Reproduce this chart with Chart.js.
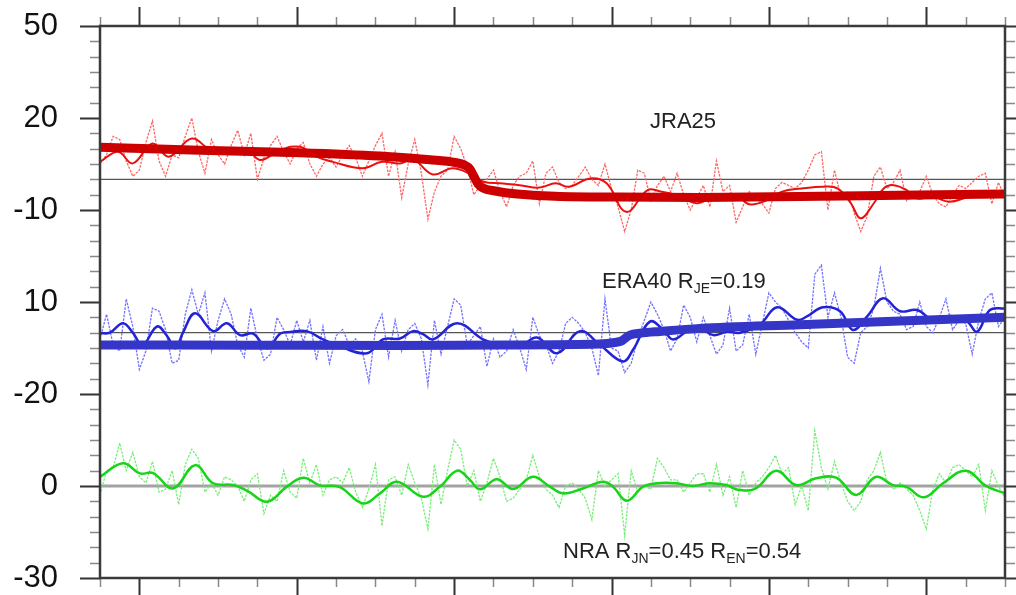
<!DOCTYPE html>
<html>
<head>
<meta charset="utf-8">
<title>JRA25 / ERA40 / NRA</title>
<script src="https://cdn.jsdelivr.net/npm/chart.js@4.4.1/dist/chart.umd.min.js"></script>
<style>
  html, body { margin: 0; padding: 0; background: #fff; }
  canvas { display: block; }
</style>
</head>
<body>
<canvas id="chart" width="1016" height="595"></canvas>
<script>
// monthly anomalies sampled every 2 months, Jan 1979 .. Dec 2001 (month 0 .. 276)
const RAW_STEP = 2;
const jraRaw = [5,8,14,13,6,1,3,12,19,6, 1,8,7,14,20,9,2,13,8,5, 11,16,8,15,0,7,11,14,9,5,
  10,12,5,1,5,7,4,8,11,7, 1,6,11,15,1,9,-6,5,13,2, -13,-4,1,3,14,10,4,-5,-2,0,
  3,-4,-9,-2,1,2,6,-8,2,4, -1,-3,-2,1,4,0,-2,5,-3,-9, -17,-10,3,2,-7,-2,1,-4,2,-5,
  -10,-6,-2,-9,6,-4,-2,-14,-9,-4, -6,-8,-11,-3,-1,-2,-3,-1,3,8, 9,-10,3,-6,-4,-11,-17,-12,1,4,
  -3,-1,3,-7,-5,-4,1,-5,-8,-9, -5,-2,-3,-1,1,2,-8,-1,-6];
const eraRaw = [-2,6,-4,-6,11,2,-12,-6,8,7, 1,-10,-9,6,14,6,13,-6,4,11, 6,-4,-8,8,-2,-9,-7,5,1,-4,
  4,-3,4,-9,2,-10,-1,1,-4,-2, -6,-16,1,6,-8,4,-6,1,3,-2, -17,4,-7,2,11,9,-4,-1,2,-11,
  -2,-8,-6,1,-5,-12,5,-1,-4,-10, -6,3,5,3,0,-5,-14,11,-5,-6, -13,-10,-2,4,10,6,1,-6,-2,9,
  5,-3,5,-1,-7,-4,8,-6,-4,6, -7,3,13,10,8,4,0,-3,-5,19, 22,5,13,5,-8,-10,0,2,8,21,
  10,7,6,1,2,10,2,0,5,11, 1,4,3,-7,4,11,13,2,5];
const nraRaw = [-3,5,6,14,5,11,3,1,8,-2, -1,5,-6,7,12,9,-2,1,-3,3, 2,0,-5,2,4,-9,-3,-5,5,-2,
  -4,9,1,7,-3,2,3,1,6,-2, -7,-1,7,-13,2,3,-3,7,1,-4, -14,7,-6,5,15,12,0,5,-5,1,
  9,3,-5,-4,-1,2,10,3,-1,-3, -7,0,1,-1,-4,-11,5,0,2,4, -16,5,-2,0,-1,9,6,2,2,-2,
  1,4,4,-2,7,-3,3,-7,5,-3, 1,3,6,10,4,6,-6,0,-8,18, 6,-1,8,1,-5,-8,-5,2,5,11,
  1,-1,1,-1,-3,-8,-14,-1,4,1, 6,7,5,3,7,-8,5,0,-4];

// low-pass filtered curves (month, value)
const jraSmoothM = [0,5.5,10,16,21,28,34,45,49,55,61,66,71,80,86,91.5,95.5,101.5,107.5,113,
  117,122,128,134,139,143,149.5,154.5,160.5,167,171,176,182,188,194,198,203,208,214,220.5,
  225,229,232,236,239,242,246,249,254,259,265,271,276];
const jraSmooth = [5.7,9.0,5.2,11.7,7.4,13.3,9.6,9.2,6.3,9.6,10.6,7.4,5.7,3.6,5.7,5.2,6.5,1.6,3.6,1.7,
  -0.8,-1.3,-1.9,-2.7,-1.3,-2.4,0.3,-1.3,-10.6,-3.5,-4.0,-5.2,-7.8,-5.2,-5.2,-8.1,-7.0,-4.0,-3.0,-2.4,
  -3.0,-7.8,-12.7,-7.8,-3.0,-1.9,-3.5,-6.2,-5.7,-7.3,-5.7,-4.6,-4.6];
const eraSmoothM = [0,3,7,10,13,17.4,20.4,23,25.3,29,34.5,38.7,42.7,46.7,51,55,58,63,68,73,
  81.4,86.3,91.5,95.5,98.5,101.6,108.9,116.8,122,128,133.3,139.4,146.4,152.5,159.5,162.6,167.7,171.7,174.8,180,
  183,187,191.2,195.2,201.3,206.5,212.6,215.6,220.5,225.7,229.6,233.9,238.8,244,249.2,254,259.2,264.4,267.5,271.4,276];
const eraSmooth = [-0.2,0,3.1,0,-4.0,2.0,-1.0,-5.1,0,6.3,0.5,3.1,-0.8,-0.3,-5.1,-0.3,0.2,0.5,-2.2,-4.4,
  -6.7,-2.2,-1.9,0.5,-0.5,-2.2,3.1,-2.2,-4.0,-4.4,-1.6,-6.7,0.5,-4.0,-9.4,-5.5,3.6,1.0,-2.2,1.2,
  1.5,-0.8,0.3,0,2.7,8.3,4.2,5.3,8.3,7.0,0.9,5.2,11.2,7.0,7.4,4.2,5.4,3.7,0.3,7.4,7.9];
const nraSmoothM = [0,7,12.2,16.2,22.3,29,34.5,40.6,44.8,51,57,62,67,73,80.2,85.4,90.6,98.5,103.7,108.9,
  112.8,115.9,121,126,132,137.2,141.2,147.3,153.4,156.4,160.7,165.6,169.9,175.7,180.8,185.7,190.9,194.9,200,206.2,
  212.3,218.4,224.5,230.6,236.7,241.8,245.8,251.3,257.1,264.1,270.2,276];
const nraSmooth = [3.0,7.4,4.1,4.2,-0.8,6.8,0.9,0.3,-1.5,-5.1,-0.2,2.7,0.2,-0.3,-5.7,-2.4,1.4,-3.5,-0.2,5.0,
  2.0,-1.1,2.2,-1.0,3.0,-0.2,-2.4,-0.8,1.4,-0.2,-4.8,-0.2,0.9,0.9,0,0.9,0.3,-1.3,-0.8,5.0,
  0.3,2.5,2.7,-2.9,3.0,0.3,-0.2,-3.7,0.9,5.0,0,-2.4];

// fitted trend with break
const jraTrendM = [0,30.5,61,85.4,100.6,108.3,111.3,112.8,114,115.3,116.8,120.5,127.2,138.8,158.6,183,213.5,244,276];
const jraTrend = [10.5,9.5,8.7,7.6,6.4,5.5,4.6,3.4,1.0,-1.5,-2.8,-3.8,-4.8,-5.5,-5.8,-5.9,-5.6,-5.2,-4.8];
const eraTrendM = [0,45.7,91.5,122,152.5,157,159.2,160.4,161.6,164.7,170.8,183,213.5,244,276];
const eraTrend = [-4.0,-4.1,-4.2,-4.0,-3.7,-3.2,-2.6,-1.6,-0.8,-0.2,0.4,1.4,2.6,3.8,5.0];

// y tick labels, bottom to top (each panel has its own zero)
const yTickLabels = ['-30', '0', '-20', '10', '-10', '20', '50'];
const MONTHS = 276;

// vertical shift of each panel on the shared axis
const NRA_SHIFT = 0, ERA_SHIFT = 50, JRA_SHIFT = 100;

const rawPts = (vals, shift) => vals.map((v, i) => ({ x: i * RAW_STEP, y: v + shift }));
const xyPts = (ms, vals, shift) => ms.map((m, i) => ({ x: m, y: vals[i] + shift }));
const flat = shift => [{ x: 0, y: shift }, { x: MONTHS, y: shift }];

const rawStyle = c => ({ borderColor: c, borderWidth: 1.3, borderDash: [2.5, 1.2], tension: 0, order: 3 });
const smoothStyle = (c, w) => ({ borderColor: c, borderWidth: w, tension: 0.4, order: 2 });
const trendStyle = c => ({ borderColor: c, borderWidth: 9, cubicInterpolationMode: 'monotone', borderCapStyle: 'butt', order: 1 });

const datasets = [
  { data: flat(NRA_SHIFT), borderColor: '#a3a3a3', borderWidth: 3, order: 4 },
  { data: flat(ERA_SHIFT), borderColor: '#555555', borderWidth: 1.2, order: 4 },
  { data: flat(JRA_SHIFT), borderColor: '#555555', borderWidth: 1.2, order: 4 },
  { data: rawPts(nraRaw, NRA_SHIFT), ...rawStyle('#78ee78') },
  { data: rawPts(eraRaw, ERA_SHIFT), ...rawStyle('#7272ff') },
  { data: rawPts(jraRaw, JRA_SHIFT), ...rawStyle('#ff6666') },
  { data: xyPts(nraSmoothM, nraSmooth, NRA_SHIFT), ...smoothStyle('#18d418', 2.5) },
  { data: xyPts(eraSmoothM, eraSmooth, ERA_SHIFT), ...smoothStyle('#2222d6', 2.5) },
  { data: xyPts(jraSmoothM, jraSmooth, JRA_SHIFT), ...smoothStyle('#ea1010', 2) },
  { data: xyPts(eraTrendM, eraTrend, ERA_SHIFT), ...trendStyle('#3535c8') },
  { data: xyPts(jraTrendM, jraTrend, JRA_SHIFT), ...trendStyle('#cc0000') }
];

// frame with major/minor tick marks on all four sides, plus panel captions
const frameAndLabels = {
  id: 'frameAndLabels',
  afterDraw(chart) {
    const { ctx, chartArea: a, scales: { x, y } } = chart;
    ctx.save();
    ctx.lineCap = 'butt';
    for (let v = -30; v <= 150; v += 5) {
      const py = Math.round(y.getPixelForValue(v)) + 0.5;
      const major = v % 30 === 0;
      const len = major ? 20 : 10;
      ctx.strokeStyle = major ? '#333' : '#888';
      ctx.lineWidth = major ? 2 : 1.5;
      ctx.beginPath();
      ctx.moveTo(a.left - len, py); ctx.lineTo(a.left, py);
      ctx.moveTo(a.right, py); ctx.lineTo(a.right + len, py);
      ctx.stroke();
    }
    for (let m = 0; m <= MONTHS; m += 12) {
      const px = Math.round(x.getPixelForValue(m)) + 0.5;
      const major = (m - 12) % 48 === 0;
      const len = major ? 19 : 9;
      ctx.strokeStyle = major ? '#333' : '#888';
      ctx.lineWidth = major ? 2 : 1.5;
      ctx.beginPath();
      ctx.moveTo(px, a.top - len); ctx.lineTo(px, a.top);
      ctx.moveTo(px, a.bottom); ctx.lineTo(px, a.bottom + len);
      ctx.stroke();
    }
    ctx.strokeStyle = '#3a3a3a';
    ctx.lineWidth = 2.5;
    ctx.strokeRect(a.left, a.top, a.right - a.left, a.bottom - a.top);

    // captions with subscripts
    const big = '22px "Liberation Sans", Arial, sans-serif';
    const small = '14px "Liberation Sans", Arial, sans-serif';
    ctx.fillStyle = '#222';
    ctx.textBaseline = 'alphabetic';
    const caption = (parts, m, v, align) => {
      let total = 0;
      parts.forEach(p => { ctx.font = p.sub ? small : big; total += ctx.measureText(p.t).width; });
      let px = x.getPixelForValue(m);
      if (align === 'center') px -= total / 2;
      const py = y.getPixelForValue(v);
      ctx.textAlign = 'left';
      parts.forEach(p => {
        ctx.font = p.sub ? small : big;
        ctx.fillText(p.t, px, p.sub ? py + 5 : py);
        px += ctx.measureText(p.t).width;
      });
    };
    caption([{ t: 'JRA25' }], 177.8, 116.7, 'center');
    caption([{ t: 'ERA40 R' }, { t: 'JE', sub: true }, { t: '=0.19' }], 153.1, 64.6, 'left');
    caption([{ t: 'NRA R' }, { t: 'JN', sub: true }, { t: '=0.45 R' }, { t: 'EN', sub: true }, { t: '=0.54' }], 141.2, -23.5, 'left');
    ctx.restore();
  }
};

new Chart(document.getElementById('chart'), {
  type: 'line',
  data: { datasets },
  options: {
    responsive: false,
    animation: false,
    elements: { point: { radius: 0 }, line: { fill: false } },
    layout: { padding: { top: 26, right: 11, bottom: 17, left: 0 } },
    plugins: { legend: { display: false }, tooltip: { enabled: false } },
    scales: {
      x: { type: 'linear', min: 0, max: MONTHS, display: false },
      y: {
        type: 'linear', min: -30, max: 150,
        afterFit(scale) { scale.width = 100; },
        border: { display: false },
        // invisible tick marks only reserve room between labels and frame
        grid: { drawOnChartArea: false, drawTicks: true, tickLength: 42, color: 'rgba(0,0,0,0)' },
        ticks: {
          stepSize: 30,
          padding: 0,
          color: '#111',
          font: { family: '"Liberation Sans", Arial, sans-serif', size: 31, lineHeight: 1 },
          callback: v => yTickLabels[Math.round((v + 30) / 30)]
        }
      }
    }
  },
  plugins: [frameAndLabels]
});
</script>
</body>
</html>
